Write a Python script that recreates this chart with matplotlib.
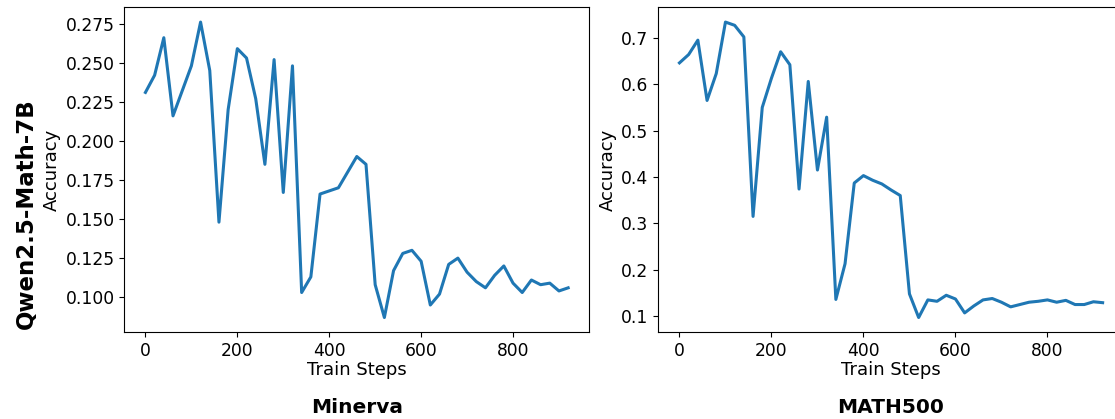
import matplotlib
matplotlib.use("Agg")
import matplotlib.pyplot as plt
import numpy as np

steps = list(range(0, 921, 20))

minerva = [0.231, 0.242, 0.266, 0.216, 0.232, 0.248, 0.276, 0.245, 0.148, 0.220,
           0.259, 0.253, 0.227, 0.185, 0.252, 0.167, 0.248, 0.103, 0.113, 0.166,
           0.168, 0.170, 0.180, 0.190, 0.185, 0.108, 0.087, 0.117, 0.128, 0.130,
           0.123, 0.095, 0.102, 0.121, 0.125, 0.116, 0.110, 0.106, 0.114, 0.120,
           0.109, 0.103, 0.111, 0.108, 0.109, 0.104, 0.106]

math500 = [0.646, 0.664, 0.695, 0.565, 0.623, 0.734, 0.727, 0.702, 0.315, 0.550,
           0.613, 0.670, 0.642, 0.374, 0.606, 0.415, 0.529, 0.136, 0.213, 0.387,
           0.403, 0.393, 0.385, 0.372, 0.360, 0.148, 0.097, 0.135, 0.132, 0.145,
           0.137, 0.107, 0.122, 0.135, 0.138, 0.130, 0.120, 0.125, 0.130, 0.132,
           0.135, 0.130, 0.134, 0.125, 0.125, 0.131, 0.129]

W, H = 1115, 419
fig = plt.figure(figsize=(W / 100, H / 100), dpi=100)

ax1 = fig.add_axes([124.3 / W, 86.7 / H, 465 / W, 325 / H])
ax2 = fig.add_axes([658.3 / W, 86.7 / H, 465.5 / W, 325 / H])

for ax, data, name, lx in [(ax1, minerva, 'Minerva', 356.8), (ax2, math500, 'MATH500', 891)]:
    ax.plot(steps, data, color='#1f77b4', linewidth=2.2)
    ax.set_xlabel('Train Steps', fontsize=13, labelpad=1)
    ax.set_ylabel('Accuracy', fontsize=13, labelpad=3)
    ax.tick_params(labelsize=12.3)
    ax.set_xticks([0, 200, 400, 600, 800])
    fig.text(lx / W, 1 - 407 / H, name, fontsize=14.5, fontweight='bold',
             ha='center', va='center')

ax1.set_yticks([0.100, 0.125, 0.150, 0.175, 0.200, 0.225, 0.250, 0.275])
ax2.set_yticks([0.1, 0.2, 0.3, 0.4, 0.5, 0.6, 0.7])

fig.text(26 / W, 1 - 214 / H, 'Qwen2.5-Math-7B', fontsize=16.5, fontweight='bold',
         rotation=90, ha='center', va='center')

fig.savefig('out.png', dpi=100)
